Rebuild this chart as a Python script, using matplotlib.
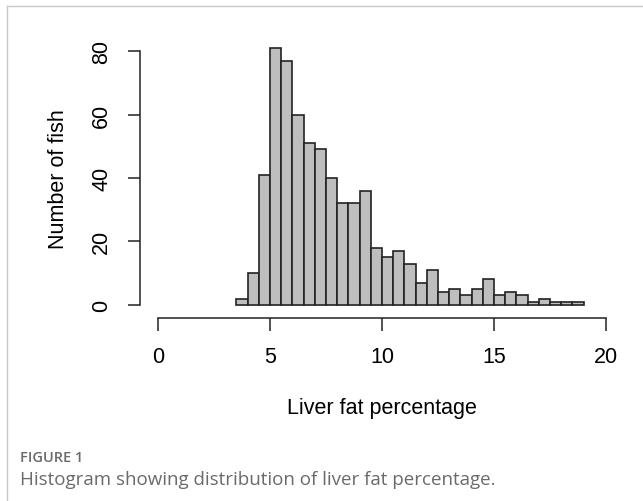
import matplotlib.pyplot as plt
from matplotlib.lines import Line2D
import numpy as np

# histogram of liver fat, bins of 0.5 from 3.5 to 19
bin_start = 3.5
bin_width = 0.5
counts = [2, 10, 41, 81, 77, 60, 51, 49, 40, 32, 32, 36, 18, 15, 17, 13,
          7, 11, 4, 5, 3, 5, 8, 3, 4, 3, 1, 2, 1, 1, 1]
xticks = [0, 5, 10, 15, 20]
yticks = [0, 20, 40, 60, 80]

edges = bin_start + bin_width * np.arange(len(counts))

W, H = 643, 502
fig = plt.figure(figsize=(W / 100, H / 100), dpi=100)
plt.rcParams['font.family'] = ['Liberation Sans', 'DejaVu Sans']

# plot region in pixels (R-style 4% padding)
left, right, top, bottom = 140, 624, 42, 316
ax = fig.add_axes([left / W, 1 - bottom / H, (right - left) / W, (bottom - top) / H])

ax.bar(edges, counts, width=bin_width, align='edge', color='#bebebe',
       edgecolor='#222222', linewidth=1.2)

ax.set_xlim(-0.8, 20.8)
ax.set_ylim(-3.2, 83.2)
for s in ['top', 'right']:
    ax.spines[s].set_visible(False)
ax.spines['left'].set_bounds(0, 80)
ax.spines['bottom'].set_bounds(0, 20)
ax.spines['left'].set_position(('outward', 0))
ax.spines['bottom'].set_position(('outward', 2))
for s in ['left', 'bottom']:
    ax.spines[s].set_linewidth(1.1)
    ax.spines[s].set_color('#222222')

ax.set_xticks(xticks)
ax.set_yticks(yticks)
ax.tick_params(axis='both', length=9, width=1.1, color='#222222', labelsize=15.5, pad=11)
ax.set_yticklabels([str(v) for v in yticks], rotation=90, va='center')

ax.set_xlabel('Liver fat percentage', fontsize=15.5, labelpad=22)
ax.set_ylabel('Number of fish', fontsize=15.5, labelpad=16)

# light frame around figure
fig.add_artist(Line2D([7 / W, 7 / W], [0, 1 - 7 / H], color='#c8c8c8', lw=1))
fig.add_artist(Line2D([7 / W, 1], [1 - 7 / H, 1 - 7 / H], color='#c8c8c8', lw=1))

fig.text(20 / W, 1 - 458 / H, 'FIGURE 1', fontsize=10.5, color='#6a6a6a',
         family=['Open Sans', 'DejaVu Sans'], weight='semibold', va='center')
fig.text(20 / W, 1 - 480 / H, 'Histogram showing distribution of liver fat percentage.',
         fontsize=13.5, color='#6a6a6a', family=['Open Sans', 'DejaVu Sans'], va='center')

fig.savefig('out.png', dpi=100)
